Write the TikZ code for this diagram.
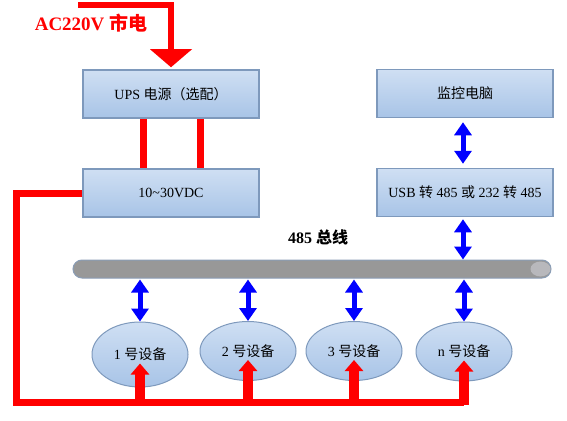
\documentclass[tikz,border=0pt]{standalone}
\usepackage{fontspec}
\setmainfont{Liberation Serif}
\newfontfamily\cjk{Noto Sans CJK SC}
\usetikzlibrary{arrows.meta,shapes.geometric}
\definecolor{boxtop}{HTML}{CFDFF3}
\definecolor{boxbot}{HTML}{A8C4E7}
\definecolor{boxline}{HTML}{7E99BC}
\definecolor{busgray}{HTML}{989898}
\definecolor{busline}{HTML}{8A9DB6}
\definecolor{buscap}{HTML}{B8B8BC}

\begin{document}
\begin{tikzpicture}[x=1pt,y=-1pt,
    box/.style={draw=boxline,line width=1.5pt,top color=boxtop,bottom color=boxbot,minimum width=176pt,minimum height=48pt,inner sep=0,font=\fontsize{14}{16}\selectfont},
    dev/.style={ellipse,draw=boxline,line width=1pt,top color=boxtop,bottom color=boxbot,minimum width=96pt,minimum height=59pt,inner sep=0,font=\fontsize{14}{16}\selectfont},
    power/.style={red,line width=7pt},
    feed/.style={red,line width=10pt,-{Triangle[width=18pt,length=11pt]}},
    data/.style={blue,line width=5pt,{Triangle[width=17pt,length=13pt]}-{Triangle[width=17pt,length=13pt]}}]
  \useasboundingbox (0,0) rectangle (567,420);
  \node[font=\bfseries\fontsize{19}{21}\selectfont,text=red] (mainslabel) at (91,23) {AC220V {\cjk 市电}};
  \node[box] (ups) at (171,94) {UPS {\cjk 电源（选配）}};
  \node[box] (dc) at (171,193) {10\textasciitilde 30VDC};
  \node[box] (pc) at (465,93.5) {\cjk 监控电脑};
  \node[box] (usb) at (465,192.5) {USB {\cjk 转} 485 {\cjk 或} 232 {\cjk 转} 485};
  \node[font=\bfseries\fontsize{16}{18}\selectfont] (buslabel) at (318,237) {485 {\cjk 总线}};
  \node[draw=busline,line width=1pt,fill=busgray,rounded corners=9pt,minimum width=478pt,minimum height=18pt,inner sep=0] (bus) at (312,269) {};
  \fill[buscap] ([xshift=-11pt]bus.east) ellipse (10pt and 7.5pt);
  \node[dev,minimum height=65pt] (dev1) at (140,354.5) {1 {\cjk 号设备}};
  \node[dev] (dev2) at (248,351) {2 {\cjk 号设备}};
  \node[dev] (dev3) at (354,351) {3 {\cjk 号设备}};
  \node[dev] (dev4) at (464,351.5) {n {\cjk 号设备}};
  \coordinate (mains) at (78,5.5);
  \coordinate (corner) at (16.5,402);
  \draw[red,line width=6pt,-{Triangle[width=41pt,length=18pt]},shorten >=2pt] (mains) -| (ups.north);
  \draw[power] ([xshift=-28pt]ups.south) -- ([xshift=-28pt]ups.south |- dc.north);
  \draw[power] ([xshift=29pt]ups.south) -- ([xshift=29pt]ups.south |- dc.north);
  \draw[power] (dc.west) -| (corner) -- (corner -| dev4.center);
  \foreach \d in {dev1,dev2,dev3,dev4}{
    \draw[feed] ([yshift=-3pt]corner -| \d.center) -- ([yshift=-9pt]\d.center);
    \draw[data,shorten <=1pt] (bus.south -| \d.north) -- (\d.north);
  }
  \draw[data,shorten <=2pt] ([xshift=-2pt]usb.south) -- ([xshift=-2pt]usb.south |- bus.north);
  \draw[data,shorten <=4pt,shorten >=4pt] ([xshift=-2pt]pc.south) -- ([xshift=-2pt]usb.north);
\end{tikzpicture}
\end{document}
